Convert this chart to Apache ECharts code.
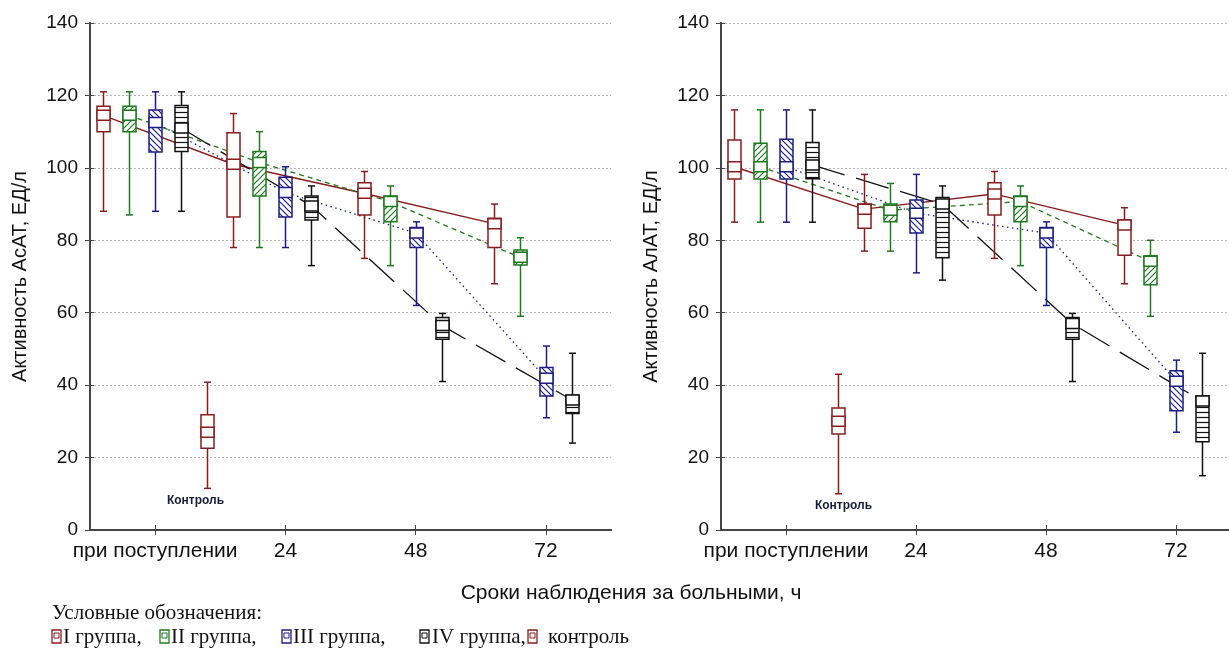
<!DOCTYPE html>
<html>
<head>
<meta charset="utf-8">
<script src="https://cdn.jsdelivr.net/npm/echarts@6/dist/echarts.min.js"></script>
<style>
  html, body { margin: 0; padding: 0; background: #fff; overflow: hidden; }
  #chart { width: 1250px; height: 650px; }
</style>
</head>
<body>
<div id="chart"></div>
<script>
var myChart = echarts.init(document.getElementById('chart'));

// сроки наблюдения
var categories = ['при поступлении', '24', '48', '72'];
var groupNames = ['I группа', 'II группа', 'III группа', 'IV группа'];

// АсАТ: [min, 25%, медиана, 75%, max] для каждого срока
var asatI   = [[88, 110, 114.5, 117, 121], [78, 86.4, 101, 109.7, 115], [75, 87, 93, 95.9, 99], [68, 78, 84.6, 86.1, 90]];
var asatII  = [[87, 110, 114.5, 117, 121], [78, 92.2, 101.5, 104.5, 110], [73, 85.1, 90.7, 92.2, 95], [59, 73.2, 75.3, 77.3, 80.7]];
var asatIII = [[88, 104.4, 112.5, 116, 121], [78, 86.4, 93.2, 97.4, 100.3], [62, 78, 82, 83.5, 85.1], [31, 37, 41.9, 44.9, 50.8]];
var asatIV  = [[88, 104.5, 111, 117.2, 121], [73, 85.6, 89.5, 92.2, 95], [41, 52.7, 56.5, 58.7, 59.8], [24, 32.2, 35.9, 37.2, 48.8]];
var asatControl = [11.5, 22.6, 27, 31.8, 40.8];

// АлАТ
var alatI   = [[85, 96.9, 100.3, 107.7, 116], [77, 83.3, 88.6, 90, 98.2], [75, 87, 92.8, 95.9, 99], [68, 75.9, 84.2, 85.6, 89]];
var alatII  = [[85, 96.9, 100.3, 106.8, 116], [77, 85.1, 88.3, 90, 95.7], [73, 85.1, 90.7, 92.2, 95], [59, 67.7, 74.2, 75.7, 80]];
var alatIII = [[85, 96.9, 100.3, 107.9, 116], [71, 82, 87.5, 91.1, 98.2], [62, 78, 82, 83.5, 85.1], [27, 32.9, 41.1, 44, 46.9]];
var alatIV  = [[85, 97, 100.8, 107, 116], [69, 75.2, 90, 91.8, 95], [41, 52.7, 57, 58.7, 59.8], [15, 24.4, 35.6, 37, 48.8]];
var alatControl = [10, 26.5, 30, 33.7, 43];

var colors = ['#8b1c1c', '#1e7a1e', '#1c1c86', '#111111'];
var lineTypes = ['solid', [5, 4], [1.5, 3.5], [34, 12]];
var groupOffset = [-0.4, -0.2, 0, 0.2];
var controlOffset = 0.4;

function makePattern(color, kind) {
    var s = kind === 'horiz' ? 5 : 6;
    var c = document.createElement('canvas');
    c.width = s; c.height = s;
    var ctx = c.getContext('2d');
    ctx.fillStyle = '#fff';
    ctx.fillRect(0, 0, s, s);
    ctx.strokeStyle = color;
    ctx.lineWidth = 1.2;
    ctx.beginPath();
    if (kind === 'fwd') {
        ctx.moveTo(0, s); ctx.lineTo(s, 0);
        ctx.moveTo(-1, 1); ctx.lineTo(1, -1);
        ctx.moveTo(s - 1, s + 1); ctx.lineTo(s + 1, s - 1);
    } else if (kind === 'back') {
        ctx.moveTo(0, 0); ctx.lineTo(s, s);
        ctx.moveTo(s - 1, -1); ctx.lineTo(s + 1, 1);
        ctx.moveTo(-1, s - 1); ctx.lineTo(1, s + 1);
    } else {
        ctx.moveTo(0, 2.5); ctx.lineTo(s, 2.5);
    }
    ctx.stroke();
    return { image: c, repeat: 'repeat' };
}

var fills = ['#fff', makePattern(colors[1], 'fwd'), makePattern(colors[2], 'back'), makePattern(colors[3], 'horiz')];

function boxRenderer(color, fill, caption, captionDx) {
    return function (params, api) {
        var x = api.value(0);
        var bot = api.coord([x, api.value(1)]);
        var q1 = api.coord([x, api.value(2)]);
        var med = api.coord([x, api.value(3)]);
        var q3 = api.coord([x, api.value(4)]);
        var top = api.coord([x, api.value(5)]);
        var cx = Math.round(top[0]) + 0.5;
        var w = 13, cap = 7, mh = 10;
        var st = { stroke: color, lineWidth: 1.5, fill: null };
        var children = [
            { type: 'line', shape: { x1: cx, y1: top[1], x2: cx, y2: q3[1] }, style: st },
            { type: 'line', shape: { x1: cx, y1: q1[1], x2: cx, y2: bot[1] }, style: st },
            { type: 'line', shape: { x1: cx - cap / 2, y1: top[1], x2: cx + cap / 2, y2: top[1] }, style: st },
            { type: 'line', shape: { x1: cx - cap / 2, y1: bot[1], x2: cx + cap / 2, y2: bot[1] }, style: st },
            { type: 'rect', shape: { x: cx - w / 2, y: q3[1], width: w, height: q1[1] - q3[1] },
              style: { fill: fill, stroke: color, lineWidth: 1.5 } },
            { type: 'rect', shape: { x: cx - w / 2, y: med[1] - mh / 2, width: w, height: mh },
              style: { fill: '#fff', stroke: color, lineWidth: 1.5 } }
        ];
        if (caption) {
            children.push({ type: 'text', x: cx + captionDx, y: bot[1] + 12,
                style: { text: caption, fill: '#1a1a3a', font: 'bold 12px Arial', align: 'center', verticalAlign: 'middle' } });
        }
        return { type: 'group', children: children };
    };
}

function buildSeries(groups, control, gi, captionDx) {
    var out = [];
    groups.forEach(function (g, k) {
        out.push({
            type: 'line', xAxisIndex: gi * 2, yAxisIndex: gi * 2, z: 2,
            symbol: 'none', silent: true,
            lineStyle: { color: colors[k], width: k === 0 ? 1.4 : 1.3, type: lineTypes[k] },
            data: g.map(function (b, i) { return [i + 0.5 + groupOffset[k], b[2]]; })
        });
        out.push({
            type: 'custom', name: groupNames[k], xAxisIndex: gi * 2, yAxisIndex: gi * 2, z: 3,
            renderItem: boxRenderer(colors[k], fills[k]),
            encode: { x: 0, y: [1, 2, 3, 4, 5] },
            data: g.map(function (b, i) { return [i + 0.5 + groupOffset[k]].concat(b); })
        });
    });
    out.push({
        type: 'custom', name: 'контроль', xAxisIndex: gi * 2, yAxisIndex: gi * 2, z: 3,
        renderItem: boxRenderer(colors[0], '#fff', 'Контроль', captionDx),
        encode: { x: 0, y: [1, 2, 3, 4, 5] },
        data: [[0.5 + controlOffset].concat(control)]
    });
    return out;
}

var axisColor = '#454545';
var tickPos = categories.map(function (c, i) { return i + 0.5; });

function xAxes(gi) {
    var base = {
        type: 'value', gridIndex: gi, min: 0, max: 4,
        axisLine: { lineStyle: { color: axisColor, width: 2 } },
        axisTick: { inside: true, length: 5, customValues: tickPos, lineStyle: { color: axisColor } },
        splitLine: { show: false }
    };
    var bottom = echarts.util.merge({
        position: 'bottom',
        axisLabel: {
            customValues: tickPos, margin: 11, color: '#111', fontSize: 21, fontFamily: 'Arial',
            formatter: function (v) { return categories[Math.floor(v)]; }
        }
    }, base, true);
    var top = echarts.util.merge({ position: 'top', axisLabel: { show: false } }, base, true);
    return [bottom, top];
}

function yAxes(gi, title) {
    var left = {
        type: 'value', gridIndex: gi, position: 'left', min: 0, max: 140, interval: 20,
        name: title, nameLocation: 'middle', nameGap: 60, nameRotate: 90,
        nameTextStyle: { color: '#111', fontSize: 20, fontFamily: 'Arial' },
        axisLine: { show: true, lineStyle: { color: axisColor, width: 2 } },
        axisTick: { show: true, inside: true, length: 4, lineStyle: { color: axisColor } },
        axisLabel: { color: '#111', fontSize: 19, fontFamily: 'Arial', margin: 12 },
        splitLine: { show: true, lineStyle: { color: '#b5b5b5', type: [2, 2], width: 1 } }
    };
    var right = {
        type: 'value', gridIndex: gi, position: 'right', min: 0, max: 140, interval: 20,
        axisLine: { show: true, lineStyle: { color: axisColor, width: 2 } },
        axisTick: { show: true, inside: true, length: 5, lineStyle: { color: axisColor } },
        axisLabel: { show: false },
        splitLine: { show: false }
    };
    return [left, right];
}

var legendItems = [
    { icon: 52, text: 63, label: 'I группа,', c: colors[0] },
    { icon: 160, text: 171, label: 'II группа,', c: colors[1] },
    { icon: 282, text: 293, label: 'III группа,', c: colors[2] },
    { icon: 420, text: 432, label: 'IV группа,', c: colors[3] },
    { icon: 528, text: 548, label: 'контроль', c: colors[0] }
];
var graphics = [
    { type: 'text', x: 631, y: 593, style: { text: 'Сроки наблюдения за больными, ч', fill: '#111', font: '21px Arial', align: 'center', verticalAlign: 'middle' } },
    { type: 'text', x: 52, y: 613, style: { text: 'Условные обозначения:', fill: '#111', font: '21px "Liberation Serif"', verticalAlign: 'middle' } }
];
legendItems.forEach(function (it) {
    graphics.push({ type: 'rect', x: it.icon, y: 630, shape: { width: 9, height: 13 },
        style: { fill: '#fff', stroke: it.c, lineWidth: 1.3 } });
    graphics.push({ type: 'rect', x: it.icon + 2, y: 633, shape: { width: 5, height: 5 },
        style: { fill: '#fff', stroke: it.c, lineWidth: 1 } });
    graphics.push({ type: 'text', x: it.text, y: 637, style: { text: it.label, fill: '#111', font: '21px "Liberation Serif"', verticalAlign: 'middle' } });
});

var option = {
    backgroundColor: '#fff',
    animation: false,
    grid: [
        { left: 90, top: 23, width: 521, height: 507 },
        { left: 721, top: 23, width: 520, height: 507 }
    ],
    xAxis: xAxes(0).concat(xAxes(1)),
    yAxis: yAxes(0, 'Активность АсАТ, ЕД/л').concat(yAxes(1, 'Активность АлАТ, ЕД/л')),
    series: buildSeries([asatI, asatII, asatIII, asatIV], asatControl, 0, -12)
        .concat(buildSeries([alatI, alatII, alatIII, alatIV], alatControl, 1, 5)),
    graphic: graphics
};

myChart.setOption(option);
</script>
</body>
</html>
